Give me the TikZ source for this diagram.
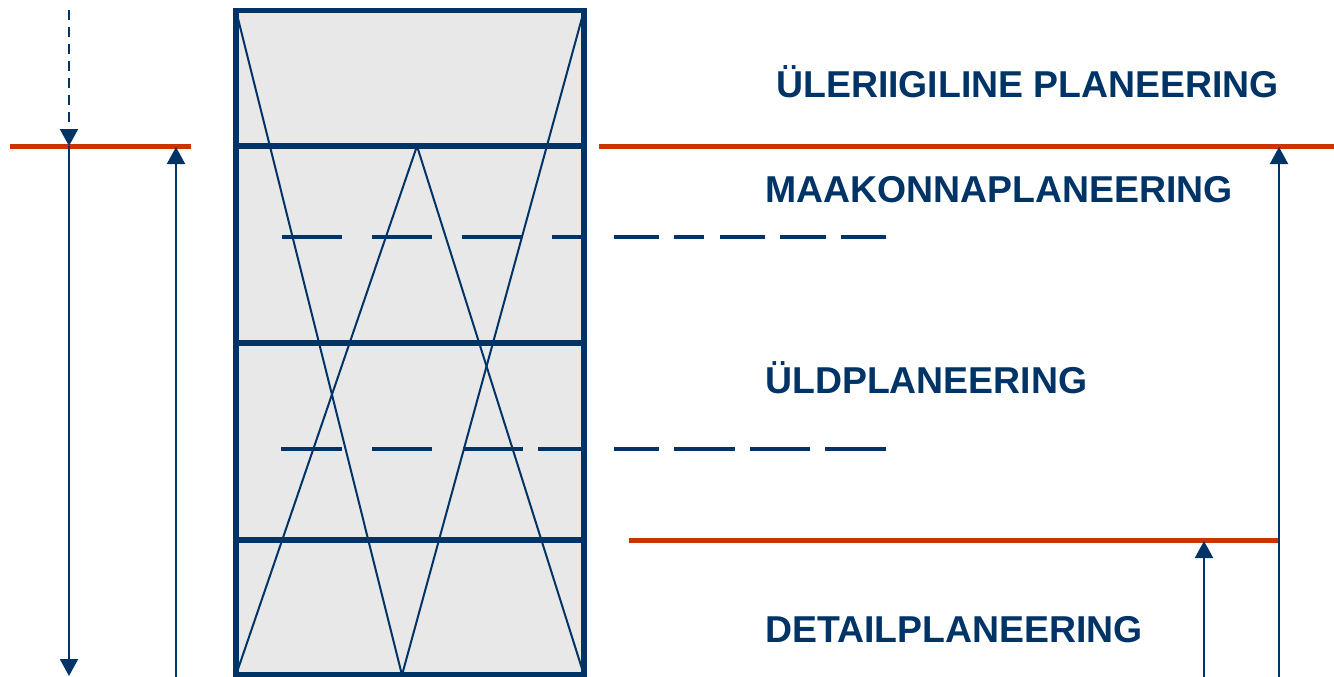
\documentclass[tikz,border=0pt]{standalone}
\usepackage{fontspec}
\setmainfont{Liberation Sans}
\usetikzlibrary{arrows.meta}
\definecolor{navy}{RGB}{0,51,102}
\definecolor{redline}{RGB}{204,51,0}
\definecolor{boxfill}{RGB}{232,232,232}
\tikzset{
  thickline/.style={draw=navy, line width=5.5pt},
  thinline/.style={draw=navy, line width=2pt},
  dashseg/.style={draw=navy, line width=4.5pt},
  redbar/.style={draw=redline, line width=5pt},
  arr/.style={draw=navy, line width=2pt, -{Triangle[width=18pt,length=17pt]}},
  label/.style={text=navy, font=\bfseries\fontsize{37.4}{44}\selectfont, anchor=base west, inner sep=0pt},
}
\begin{document}
\begin{tikzpicture}[x=1pt,y=-1pt]
\useasboundingbox (0,0) rectangle (1334,677);
% box corners
\coordinate (tl) at (236,10.5);
\coordinate (tr) at (584,10.5);
\coordinate (bl) at (236,675);
\coordinate (br) at (584,675);
\coordinate (vb) at (402,675);
\coordinate (ap) at (417,146);
\fill[boxfill] (tl) rectangle (br);
% diagonals
\draw[thinline] (tl) -- (vb) -- (tr);
\draw[thinline] (bl) -- (ap) -- (br);
% dashed levels
\foreach \a/\b in {282/342,372/432,462/522,552/584}{
  \draw[dashseg] (\a,237) -- (\b,237);}
\foreach \a/\b in {614/659,674/704,720/765,780/826,841/886}{
  \draw[dashseg] (\a,237) -- (\b,237);}
\foreach \a/\b in {281/342,372/432,463/523,538/584}{
  \draw[dashseg] (\a,449) -- (\b,449);}
\foreach \a/\b in {614/659,674/735,750/810,825/886}{
  \draw[dashseg] (\a,449) -- (\b,449);}
% horizontal bars in box
\draw[thickline] (236,146) -- (584,146);
\draw[thickline] (236,343) -- (584,343);
\draw[thickline] (236,540) -- (584,540);
\draw[thickline] (tl) rectangle (br);
% red lines
\coordinate (r1a) at (10,146);
\coordinate (r1b) at (191,146);
\coordinate (r2a) at (599,146);
\coordinate (r2b) at (1334,146);
\coordinate (r3a) at (629,540);
\coordinate (r3b) at (1279,540);
\draw[redbar] (r1a) -- (r1b);
\draw[redbar] (r2a) -- (r2b);
\draw[redbar] (r3a) -- (r3b);
% arrows
\coordinate (a1s) at (69,10);
\coordinate (a1e) at (69,146);
\coordinate (a2e) at (69,676);
\coordinate (a3s) at (176,677);
\coordinate (a3e) at (176,147);
\coordinate (a4s) at (1279,677);
\coordinate (a4e) at (1279,147);
\coordinate (a5s) at (1204,677);
\coordinate (a5e) at (1204,541);
\draw[arr, dash pattern=on 10pt off 7pt] (a1s) -- (a1e);
\draw[arr] (a1e) -- (a2e);
\draw[arr] (a3s) -- (a3e);
\draw[arr] (a4s) -- (a4e);
\draw[arr] (a5s) -- (a5e);
% labels
\node[label] (t1) at (776,97) {ÜLERIIGILINE PLANEERING};
\node[label] (t2) at (765,202) {MAAKONNAPLANEERING};
\node[label] (t3) at (765,393) {ÜLDPLANEERING};
\node[label] (t4) at (765,642) {DETAILPLANEERING};
\end{tikzpicture}
\end{document}
